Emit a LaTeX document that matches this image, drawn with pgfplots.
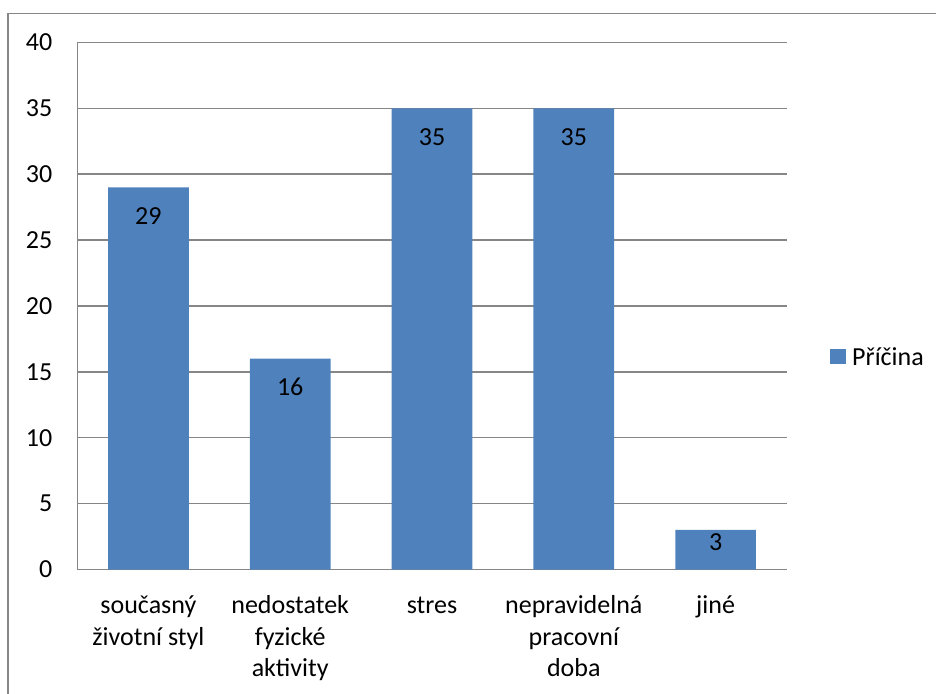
\documentclass[border=0pt]{standalone}
\usepackage{fontspec}
\setmainfont{Carlito}
\usepackage{pgfplots}
\usepackage{pgfplotstable}
\pgfplotsset{compat=1.18}

\definecolor{barblue}{HTML}{4F81BD}
\definecolor{linegray}{HTML}{868686}

% x position, count, and how far the value label sits below the bar top (pt)
\pgfplotstableread{
x  y   off
0  29  36.7
1  16  36.7
2  35  36.7
3  35  36.7
4  3   21
}\priciny

\begin{document}
\fontsize{26}{31.7}\selectfont
\begin{tikzpicture}
\useasboundingbox (0,0) rectangle (936pt,693pt);
\begin{scope}
\clip (0,0) rectangle (936pt,693pt);
\draw[linegray, line width=1.5pt] (8pt,679.5pt) rectangle (950pt,-20pt);
\end{scope}
\begin{axis}[
  scale only axis,
  width=709pt, height=527pt,
  at={(77.5pt,123.5pt)}, anchor=south west,
  ymin=0, ymax=40, ytick={0,5,...,40},
  xmin=-0.5, xmax=4.5,
  xtick={0,1,2,3,4},
  xticklabels={{\strut současný\\životní styl},{\strut nedostatek\\fyzické\\aktivity},{\strut stres},{\strut nepravidelná\\pracovní\\doba},{\strut jiné}},
  axis x line*=bottom, axis y line*=left,
  axis line style={linegray, line width=1.5pt, -},
  ymajorgrids,
  grid style={linegray, line width=1.5pt},
  tick style={draw=none},
  /pgf/number format/assume math mode=true,
  yticklabel style={anchor=east, inner sep=0pt, xshift=-25pt},
  xticklabel style={anchor=north, inner sep=0pt, yshift=-21.6pt, align=center},
  legend style={at={(1.0614,0.4013)}, anchor=west, draw=none, fill=none,
    inner sep=0pt, nodes={inner sep=0pt},
    /tikz/every odd column/.append style={column sep=6.5pt}},
]
\addplot[ybar, bar width=80.7pt, fill=barblue, draw=none,
  nodes near coords,
  visualization depends on={\thisrow{off} \as \off},
  every node near coord/.append style={anchor=base, inner sep=0pt, yshift=-\off pt, black},
  legend image code/.code={\fill[barblue] (0pt,-6pt) rectangle (15.5pt,9.5pt);}
] table[x=x, y=y] {\priciny};
\addlegendentry{Příčina}
\end{axis}
\end{tikzpicture}
\end{document}
